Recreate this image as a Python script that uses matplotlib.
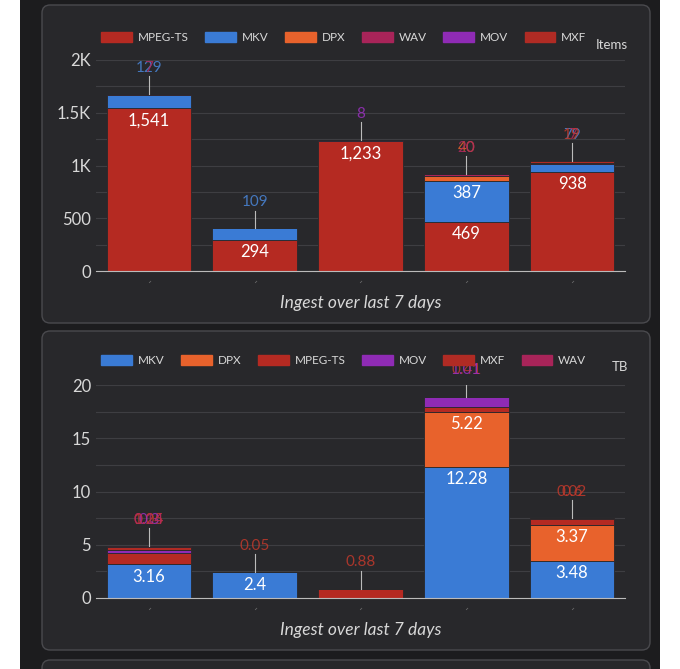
import numpy as np
import matplotlib.pyplot as plt
from matplotlib.patches import FancyBboxPatch, Rectangle

plt.rcParams['font.family'] = ['Lato', 'DejaVu Sans']

days = ["..", "..", "..", "..", ".."]

# items panel
items_series = ["MPEG-TS", "MKV", "DPX", "WAV", "MOV", "MXF"]
items_values = {
    "MPEG-TS": [1541, 294, 1233, 469, 938],
    "MKV": [129, 109, 0, 387, 79],
    "DPX": [0, 0, 0, 40, 0],
    "WAV": [7, 0, 0, 20, 7],
    "MOV": [0, 0, 8, 0, 0],
    "MXF": [0, 0, 0, 0, 19],
}

# TB panel
tb_series = ["MKV", "DPX", "MPEG-TS", "MOV", "MXF", "WAV"]
tb_values = {
    "MKV": [3.16, 2.4, 0, 12.28, 3.48],
    "DPX": [0, 0, 0, 5.22, 3.37],
    "MPEG-TS": [1.05, 0, 0.88, 0.41, 0.6],
    "MOV": [0.3, 0, 0, 1.01, 0],
    "MXF": [0.24, 0.05, 0, 0, 0.02],
    "WAV": [0.14, 0, 0, 0, 0],
}

colors = {"MPEG-TS": "#b52a22", "MKV": "#3a7bd5", "DPX": "#e8622c",
          "WAV": "#a82459", "MOV": "#8f2bb5", "MXF": "#b02b24"}
label_colors = {"MPEG-TS": "#c0392b", "MKV": "#4a86d8", "DPX": "#e8622c",
                "WAV": "#b0285e", "MOV": "#9b30c0", "MXF": "#c0392b"}

TXT = "#d8d8d8"
fig = plt.figure(figsize=(6.8, 6.69), dpi=100, facecolor="white")
fig.patches.append(Rectangle((20/680, 0), 640/680, 1, transform=fig.transFigure,
                             facecolor="#1c1c1e", edgecolor="none", zorder=-2))
for y0, y1 in [(5, 323), (331, 650), (660, 700)]:
    fig.patches.append(FancyBboxPatch((42/680, 1 - y1/669), 608/680, (y1 - y0)/669,
                                      boxstyle="round,pad=0,rounding_size=0.012",
                                      transform=fig.transFigure, facecolor="#28282b",
                                      edgecolor="#4a4a4e", lw=1, zorder=-1))


def draw(ax, series, values, ylim, ticks, ticklabels, unit, fmt, small_thr, bottom_leg_y):
    ax.set_facecolor("none")
    ax.set_zorder(1)
    x = np.arange(len(days))
    bottom = np.zeros(len(days))
    for s in series:
        v = np.array(values[s], dtype=float)
        ax.bar(x, v, bottom=bottom, width=0.8, color=colors[s], zorder=2,
               edgecolor="#28282b", linewidth=0.6)
        for i in range(len(x)):
            if v[i] >= small_thr:
                ax.text(x[i], bottom[i] + v[i] - ylim * 0.02, fmt(v[i]), ha="center",
                        va="top", color="white", fontsize=12, zorder=4)
        bottom = bottom + v
    # small segment labels above bars, stacked on top of each other like the reference
    for i in range(len(x)):
        smalls = [(s, values[s][i]) for s in series if 0 < values[s][i] < small_thr]
        if not smalls:
            continue
        ly = bottom[i] + ylim * 0.09
        ax.plot([x[i], x[i]], [bottom[i], ly - ylim * 0.005], color="#bbbbbb", lw=0.8, zorder=3)
        for s, v in smalls:
            ax.text(x[i], ly, fmt(v), ha="center", va="bottom", color=label_colors[s],
                    fontsize=11, alpha=0.85, zorder=4)
    ax.set_xlim(-0.5, len(days) - 0.5)
    ax.set_ylim(0, ylim)
    ax.set_yticks(ticks)
    ax.set_yticklabels(ticklabels, color=TXT, fontsize=12)
    ax.set_yticks(np.arange(0, ylim + 1e-9, ticks[1] / 2), minor=True)
    ax.grid(axis="y", which="both", color="#3e3e42", lw=0.8, zorder=0)
    ax.tick_params(axis="y", length=0, which="both")
    ax.set_xticks(x)
    ax.set_xticklabels(days, color="#aaaaaa", fontsize=6, rotation=45)
    ax.tick_params(axis="x", length=0)
    for sp in ["top", "right", "left"]:
        ax.spines[sp].set_visible(False)
    ax.spines["bottom"].set_color("#bbbbbb")
    ax.set_xlabel("Ingest over last 7 days", color=TXT, fontsize=12.5, style="italic", labelpad=8)
    handles = [Rectangle((0, 0), 1, 1, color=colors[s]) for s in series]
    ax.legend(handles, series, loc="lower left", bbox_to_anchor=(-0.01, bottom_leg_y), ncol=6,
              frameon=False, fontsize=8.5, labelcolor=TXT, handlelength=2.6, handleheight=0.9,
              columnspacing=1.4, handletextpad=0.5)
    ax.text(1.005, bottom_leg_y + 0.015, unit, transform=ax.transAxes, ha="right",
            va="bottom", color=TXT, fontsize=9.5)


ax1 = fig.add_axes([96/680, 1 - 271/669, 529/680, 211/669])
draw(ax1, items_series, items_values, 2000, [0, 500, 1000, 1500, 2000],
     ["0", "500", "1K", "1.5K", "2K"], "Items", lambda v: f"{int(v):,}", 150, 1.03)

ax2 = fig.add_axes([96/680, 1 - 598/669, 529/680, 213/669])
draw(ax2, tb_series, tb_values, 20, [0, 5, 10, 15, 20],
     ["0", "5", "10", "15", "20"], "TB", lambda v: f"{v:g}", 2.0, 1.04)

fig.savefig("out.png", dpi=100, facecolor=fig.get_facecolor())
